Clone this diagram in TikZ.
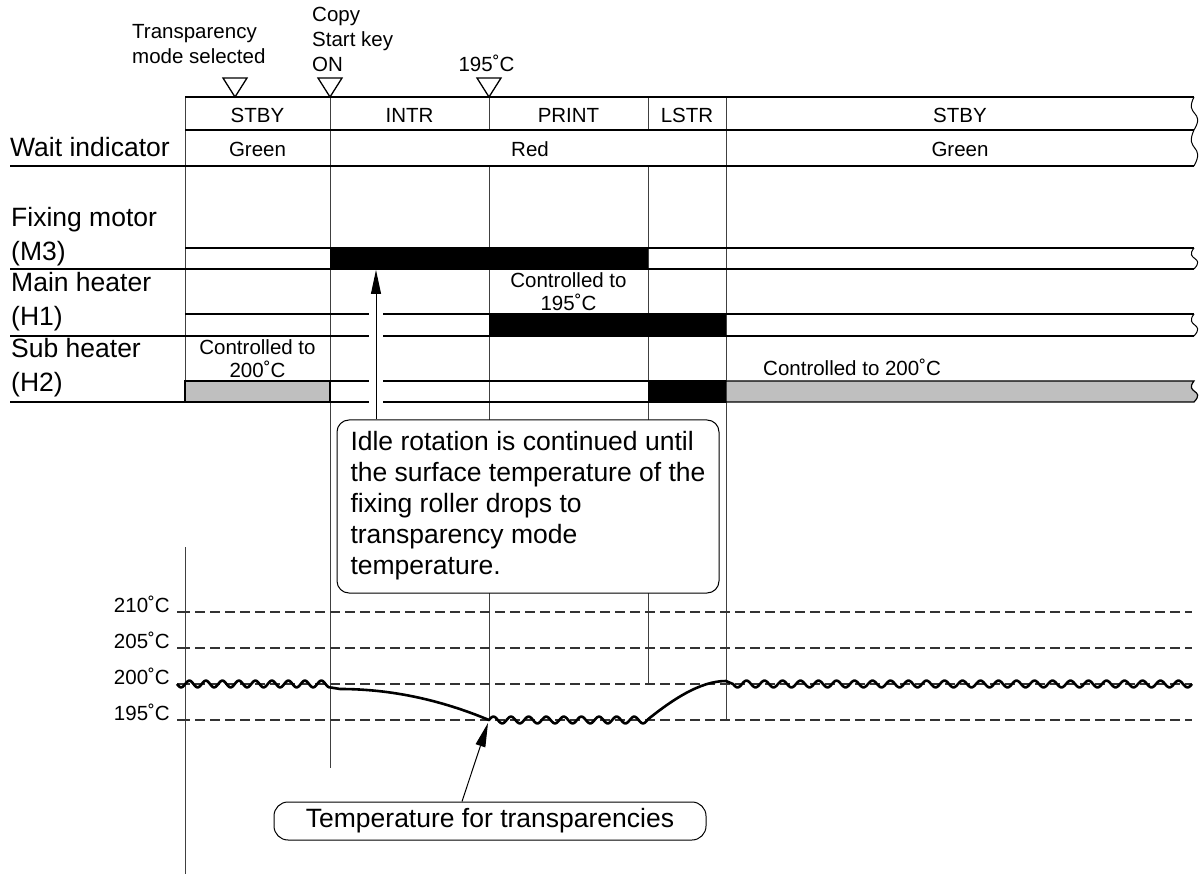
\documentclass[tikz,border=0pt]{standalone}
\usepackage{fontspec}
\setmainfont{Liberation Sans}
\usetikzlibrary{arrows.meta}
\newcommand{\fontLab}{\fontsize{26.5}{34}\selectfont}
\newcommand{\fontCall}{\fontsize{26.5}{31}\selectfont}
\newcommand{\fontSm}{\fontsize{20.5}{25}\selectfont}
\newcommand{\fontTight}{\fontsize{20.5}{21}\selectfont}
\tikzset{
  hl/.style={line width=1.2pt, black},
  vl/.style={line width=1pt, black!75},
  lbl/.style={inner sep=0pt, font=\fontLab},
  sm/.style={inner sep=0pt, font=\fontSm},
  tight/.style={inner sep=0pt, font=\fontTight},
  tri/.style={draw, line width=1.3pt, fill=white, line join=miter},
  brk/.style={line width=1pt, black},
  tdash/.style={line width=1.2pt, black!80, dash pattern=on 10pt off 5pt},
  tick/.style={line width=1.2pt, black!80},
  curve/.style={line width=2.6pt, line join=round, black},
  bbar/.style={fill=black},
  gbar/.style={fill=black!25, draw=black, line width=1.2pt},
  ptr/.style={-{Triangle[length=24pt,width=10pt]}, line width=1pt},
  callout/.style={draw, rounded corners=12pt, fill=white, line width=1pt, inner sep=0pt},
}
\begin{document}
\begin{tikzpicture}[x=1pt,y=-1pt]
\useasboundingbox (0,0) rectangle (1203,874);

% ---------- vertical lines ----------
\draw[vl] (185,97) -- (185,402);
\draw[vl] (330,97) -- (330,768);
\draw[vl] (489,97) -- (489,130);
\draw[vl] (489,166) -- (489,720);
\draw[vl] (648,97) -- (648,130);
\draw[vl] (648,166) -- (648,684);
\draw[vl] (726,97) -- (726,720);

% ---------- horizontal lines ----------
\draw[hl] (185,97) -- (1194,97);
\draw[hl] (185,130) -- (1194,130);
\draw[hl] (10,166) -- (1194,166);
\draw[hl] (185,248) -- (1194,248);
\draw[hl] (10,269) -- (1194,269);
\draw[hl] (185,314) -- (1194,314);
\draw[hl] (10,336) -- (1194,336);
\draw[hl] (185,381) -- (726,381);
\draw[hl] (10,402) -- (726,402);

% ---------- bars ----------
\fill[bbar] (330,248) rectangle (648,269);
\fill[bbar] (489,314) rectangle (726,336);
\draw[gbar] (185,381) rectangle (330,402);
\fill[bbar] (648,381) rectangle (726,402);
\draw[gbar] (726,381) -- (1194,381) .. controls (1184,393.6) and (1206,389.4) .. (1194,402) -- (726,402) -- cycle;

% ---------- break marks ----------
\foreach \t/\b in {97/130,130/166,248/269,314/336}
  \draw[brk] (1194,\t) .. controls (1184,{\t+0.6*(\b-\t)}) and (1206,{\t+0.4*(\b-\t)}) .. (1194,\b);

% ---------- event triangles ----------
\foreach \xx in {235,330,489}
  \draw[tri] ({\xx-12},78) -- ({\xx+12},78) -- (\xx,97) -- cycle;

% ---------- top labels ----------
\node[sm, anchor=base west] (tmode) at (132,39)
  {\begin{tabular}[t]{@{}l@{}}Transparency\\mode selected\end{tabular}};
\node[sm, anchor=base west] (tcopy) at (312,22)
  {\begin{tabular}[t]{@{}l@{}}Copy\\Start key\\ON\end{tabular}};
\node[sm, anchor=base] (t195) at (486.5,72) {195˚C};

% ---------- column labels ----------
\node[sm, anchor=base] (c1) at (257.5,123) {STBY};
\node[sm, anchor=base] (c2) at (409.5,123) {INTR};
\node[sm, anchor=base] (c3) at (568.5,123) {PRINT};
\node[sm, anchor=base] (c4) at (687,123) {LSTR};
\node[sm, anchor=base] (c5) at (960,123) {STBY};
\node[sm, anchor=base] (w1) at (257.5,157) {Green};
\node[sm, anchor=base] (w2) at (530,157) {Red};
\node[sm, anchor=base] (w3) at (960,157) {Green};

% ---------- row labels ----------
\node[lbl, anchor=base west] (lwait) at (10,157) {Wait indicator};
\node[lbl, anchor=base west] (lfix) at (11,227)
  {\begin{tabular}[t]{@{}l@{}}Fixing motor\\(M3)\end{tabular}};
\node[lbl, anchor=base west] (lmain) at (11,292)
  {\begin{tabular}[t]{@{}l@{}}Main heater\\(H1)\end{tabular}};
\node[lbl, anchor=base west] (lsub) at (11,358)
  {\begin{tabular}[t]{@{}l@{}}Sub heater\\(H2)\end{tabular}};

% ---------- row notes ----------
\node[tight, anchor=base] (n1) at (568.5,288)
  {\begin{tabular}[t]{@{}c@{}}Controlled to\\195˚C\end{tabular}};
\node[tight, anchor=base] (n2) at (257.5,355)
  {\begin{tabular}[t]{@{}c@{}}Controlled to\\200˚C\end{tabular}};
\node[sm, anchor=base west] (n3) at (763,376) {Controlled to 200˚C};

% ---------- lower chart ----------
\draw[vl] (185,547) -- (185,874);
\foreach \yy/\lab in {612/210,648/205,684/200,720/195}{
  \draw[tick] (177,\yy) -- (190,\yy);
  \draw[tdash] (195,\yy) -- (1192,\yy);
  \node[sm, anchor=base east] (t\lab) at (170,\yy) {\lab˚C};
}

\draw[curve] plot[domain=177:330, samples=140] (\x,{684+3.4*sin((\x-177)/16.5*360)})
  -- (340,689)
  -- plot[domain=340:489, samples=50] (\x,{689+31*((\x-340)/149)^2})
  -- plot[domain=489:648, samples=140] (\x,{720-3.4*sin((\x-489)/17.6*360)})
  .. controls (672,700) and (700,681) .. (726,681)
  -- plot[domain=733:1192, samples=400] (\x,{684+3.4*sin((\x-733)/18*360)});

% ---------- callout boxes ----------
\node[callout, minimum width=382pt, minimum height=173pt, font=\fontCall] (cbox) at (528,506.5)
  {\begin{tabular}{@{}l@{}}Idle rotation is continued until\\the surface temperature of the\\fixing roller drops to\\transparency mode\\temperature.\end{tabular}};
\coordinate (mtr) at (376,270);
\draw[white, line width=14pt] (376,300) -- (376,419);
\draw[ptr] ([xshift=-152pt]cbox.north) -- (mtr);

\node[callout, rounded corners=14pt, minimum width=432pt, minimum height=38pt, font=\fontLab] (tbox) at (490,821)
  {Temperature for transparencies};
\coordinate (tmin) at (488,723);
\draw[ptr] ([xshift=-28pt]tbox.north) -- (tmin);
\end{tikzpicture}
\end{document}
